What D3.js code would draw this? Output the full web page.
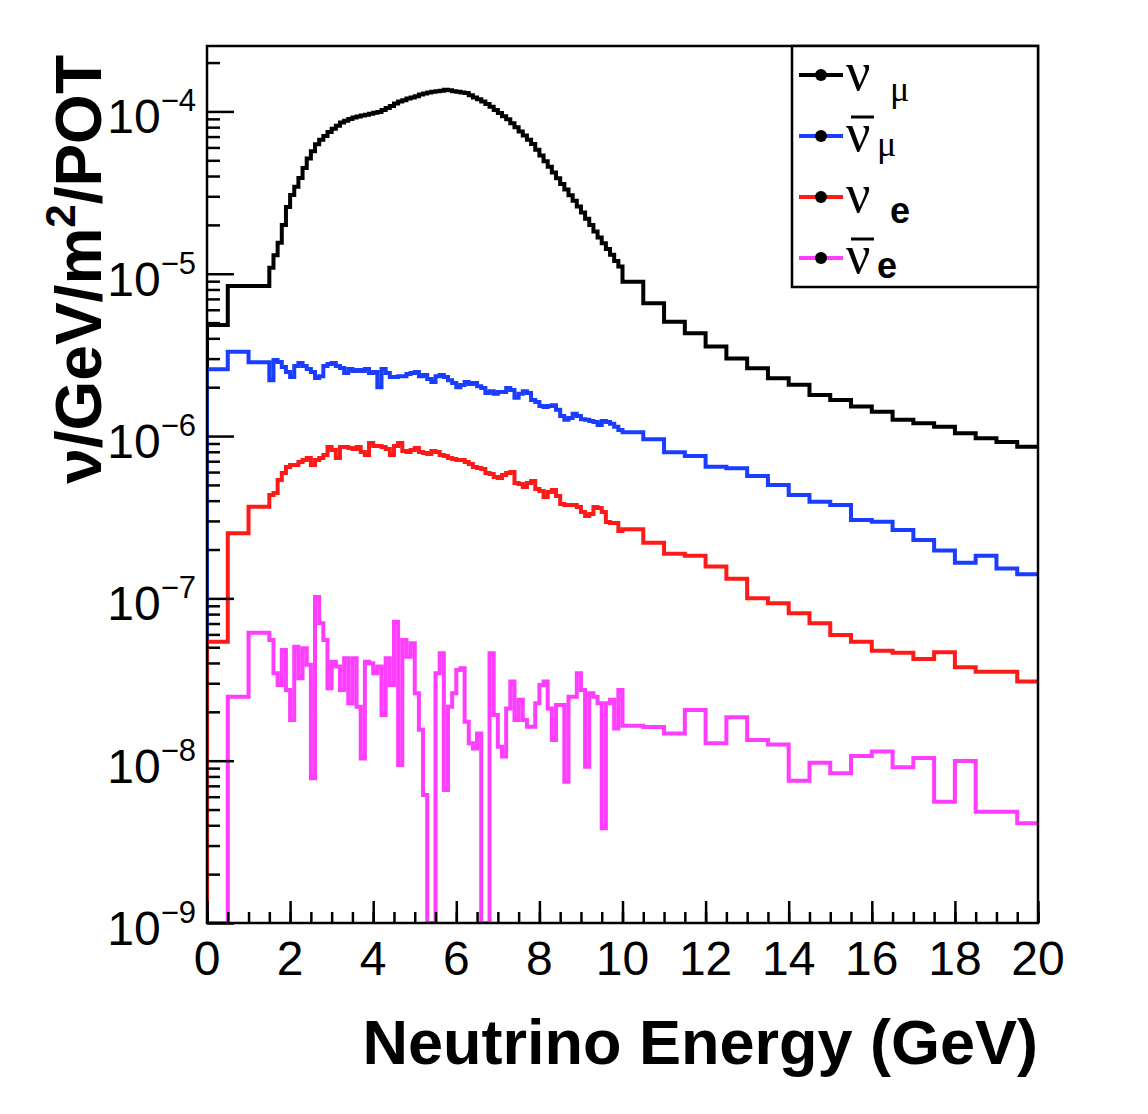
<!DOCTYPE html>
<meta charset="utf-8">
<script src="https://d3js.org/d3.v7.min.js"></script>
<style>
    body { margin: 0; background: #fff; }
</style>
<div id="chart"></div>
<script>
    // bin edges (GeV): 0.5 GeV bins up to 1.5, 0.1 GeV bins to 10, 0.5 GeV bins to 20
    const binEdges = [0, 0.5, 1.0]
        .concat(d3.range(15, 100).map(i => i / 10))
        .concat(d3.range(20, 41).map(i => i / 2));

    // nu_mu flux (black)
    const nuMu = [
        4.84e-6, 8.41e-6, 8.41e-6,
        1.09e-5, 1.30e-5, 1.55e-5, 2.00e-5, 2.58e-5, 3.06e-5, 3.44e-5, 3.89e-5, 4.49e-5, 5.13e-5,
        5.68e-5, 6.27e-5, 6.68e-5, 7.06e-5, 7.48e-5, 7.82e-5, 8.17e-5, 8.55e-5, 8.77e-5, 8.97e-5,
        9.18e-5, 9.31e-5, 9.44e-5, 9.55e-5, 9.68e-5, 9.80e-5, 9.93e-5, 1.02e-4, 1.05e-4, 1.08e-4,
        1.12e-4, 1.15e-4, 1.17e-4, 1.20e-4, 1.22e-4, 1.24e-4, 1.27e-4, 1.29e-4, 1.31e-4, 1.32e-4,
        1.33e-4, 1.34e-4, 1.36e-4, 1.35e-4, 1.33e-4, 1.32e-4, 1.31e-4, 1.30e-4, 1.26e-4, 1.22e-4,
        1.19e-4, 1.15e-4, 1.11e-4, 1.07e-4, 1.02e-4, 9.77e-5, 9.34e-5, 8.94e-5, 8.46e-5, 7.98e-5,
        7.53e-5, 7.11e-5, 6.70e-5, 6.30e-5, 5.81e-5, 5.36e-5, 4.94e-5, 4.56e-5, 4.21e-5, 3.87e-5,
        3.57e-5, 3.30e-5, 3.05e-5, 2.82e-5, 2.60e-5, 2.38e-5, 2.18e-5, 2.00e-5, 1.82e-5, 1.67e-5,
        1.54e-5, 1.42e-5, 1.31e-5, 1.20e-5, 1.11e-5,
        8.93e-6, 6.58e-6, 5.07e-6, 4.30e-6, 3.56e-6, 3.01e-6, 2.62e-6, 2.27e-6, 2.07e-6, 1.79e-6,
        1.67e-6, 1.52e-6, 1.41e-6, 1.26e-6, 1.20e-6, 1.14e-6, 1.04e-6, 9.7e-7, 9.2e-7, 8.6e-7
    ];

    // anti nu_mu flux (blue)
    const nuMuBar = [
        2.58e-6, 3.31e-6, 2.85e-6,
        2.21e-6, 2.94e-6, 2.86e-6, 2.66e-6, 2.48e-6, 2.31e-6, 2.70e-6, 2.82e-6, 2.70e-6, 2.59e-6,
        2.48e-6, 2.28e-6, 2.34e-6, 2.70e-6, 2.78e-6, 2.82e-6, 2.70e-6, 2.63e-6, 2.45e-6, 2.59e-6,
        2.52e-6, 2.55e-6, 2.52e-6, 2.59e-6, 2.45e-6, 2.48e-6, 2.00e-6, 2.59e-6, 2.45e-6, 2.31e-6,
        2.31e-6, 2.34e-6, 2.34e-6, 2.41e-6, 2.45e-6, 2.48e-6, 2.34e-6, 2.38e-6, 2.25e-6, 2.15e-6,
        2.34e-6, 2.38e-6, 2.31e-6, 2.21e-6, 2.12e-6, 2.00e-6, 2.06e-6, 2.15e-6, 2.09e-6, 2.12e-6,
        2.03e-6, 1.98e-6, 1.84e-6, 1.89e-6, 1.82e-6, 1.87e-6, 1.87e-6, 1.98e-6, 1.92e-6, 1.72e-6,
        1.82e-6, 1.89e-6, 1.84e-6, 1.67e-6, 1.62e-6, 1.53e-6, 1.51e-6, 1.53e-6, 1.55e-6, 1.45e-6,
        1.33e-6, 1.26e-6, 1.29e-6, 1.37e-6, 1.33e-6, 1.27e-6, 1.26e-6, 1.24e-6, 1.22e-6, 1.17e-6,
        1.24e-6, 1.22e-6, 1.19e-6, 1.14e-6, 1.09e-6,
        1.055e-6, 9.56e-7, 7.95e-7, 7.54e-7, 6.48e-7, 6.33e-7, 5.68e-7, 5.00e-7, 4.34e-7, 3.94e-7,
        3.76e-7, 3.04e-7, 2.97e-7, 2.64e-7, 2.29e-7, 1.97e-7, 1.66e-7, 1.83e-7, 1.53e-7, 1.41e-7
    ];

    // nu_e flux (red)
    const nuE = [
        5.41e-8, 2.52e-7, 3.67e-7,
        4.34e-7, 4.46e-7, 5.36e-7, 5.92e-7, 6.45e-7, 6.64e-7, 6.64e-7, 6.93e-7, 7.12e-7, 7.33e-7,
        6.64e-7, 7.12e-7, 7.33e-7, 7.65e-7, 8.57e-7, 8.21e-7, 7.33e-7, 8.57e-7, 8.57e-7, 8.45e-7,
        8.33e-7, 8.57e-7, 7.98e-7, 7.65e-7, 9.07e-7, 8.70e-7, 8.70e-7, 8.57e-7, 8.33e-7, 7.65e-7,
        8.70e-7, 9.07e-7, 8.10e-7, 7.98e-7, 8.21e-7, 8.45e-7, 7.98e-7, 7.87e-7, 7.76e-7, 8.10e-7,
        7.98e-7, 7.65e-7, 7.54e-7, 7.33e-7, 7.23e-7, 7.12e-7, 7.12e-7, 6.93e-7, 6.73e-7, 6.45e-7,
        6.36e-7, 6.27e-7, 5.92e-7, 5.84e-7, 5.59e-7, 5.52e-7, 5.76e-7, 5.92e-7, 6.01e-7, 5.14e-7,
        5.07e-7, 4.86e-7, 5.14e-7, 5.29e-7, 4.72e-7, 4.59e-7, 4.22e-7, 4.52e-7, 4.65e-7, 4.28e-7,
        3.81e-7, 3.76e-7, 3.76e-7, 3.76e-7, 3.65e-7, 3.40e-7, 3.22e-7, 3.31e-7, 3.65e-7, 3.60e-7,
        3.40e-7, 2.96e-7, 2.91e-7, 2.91e-7, 2.60e-7,
        2.67e-7, 2.20e-7, 1.88e-7, 1.83e-7, 1.57e-7, 1.32e-7, 1.00e-7, 9.33e-8, 8.10e-8, 7.02e-8,
        5.95e-8, 5.41e-8, 4.76e-8, 4.63e-8, 4.23e-8, 4.66e-8, 3.76e-8, 3.53e-8, 3.53e-8, 3.07e-8
    ];

    // anti nu_e flux (magenta), empty bins are 0
    const nuEBar = [
        0, 2.48e-8, 6.15e-8,
        5.54e-8, 3.46e-8, 2.93e-8, 4.81e-8, 2.73e-8, 1.78e-8, 5.04e-8, 3.22e-8, 4.93e-8, 3.90e-8,
        7.79e-9, 1.02e-7, 7.02e-8, 5.54e-8, 2.79e-8, 4.07e-8, 3.80e-8, 2.73e-8, 4.28e-8, 2.26e-8,
        4.28e-8, 2.15e-8, 1.03e-8, 4.07e-8, 3.98e-8, 3.46e-8, 3.80e-8, 1.91e-8, 4.28e-8, 2.93e-8,
        7.19e-8, 9.41e-9, 5.54e-8, 4.37e-8, 5.29e-8, 2.60e-8, 1.55e-8, 6.15e-9, 0, 0,
        3.46e-8, 4.59e-8, 6.60e-9, 2.15e-8, 2.60e-8, 3.62e-8, 3.71e-8, 1.74e-8, 1.28e-8, 1.19e-8,
        1.47e-8, 0, 0, 4.59e-8, 1.91e-8, 1.22e-8, 1.06e-8, 2.10e-8, 3.07e-8, 1.78e-8,
        2.37e-8, 1.78e-8, 1.62e-8, 1.62e-8, 2.26e-8, 2.93e-8, 3.07e-8, 2.10e-8, 1.34e-8, 2.20e-8,
        2.20e-8, 7.42e-9, 2.48e-8, 2.48e-8, 3.46e-8, 2.73e-8, 9.18e-9, 2.60e-8, 2.48e-8, 2.26e-8,
        3.83e-9, 2.26e-8, 2.37e-8, 1.58e-8, 2.73e-8,
        1.64e-8, 1.61e-8, 1.47e-8, 2.05e-8, 1.28e-8, 1.85e-8, 1.34e-8, 1.26e-8, 7.53e-9, 9.72e-9,
        8.36e-9, 1.07e-8, 1.14e-8, 9.11e-9, 1.04e-8, 5.59e-9, 9.96e-9, 4.85e-9, 4.85e-9, 4.11e-9
    ];

    const seriesList = [nuMu, nuMuBar, nuE, nuEBar];
    const seriesColors = ["#000000", "#1a3dff", "#ff1a1a", "#ff3dff"];

    // legend text pieces
    const legendSubs = ["μ", "μ", "e", "e"];
    const legendAnti = [false, true, false, true];

    const xTicks = d3.range(0, 21, 2);
    const xMinor = d3.range(0, 20.01, 0.5);
    const yDecades = [-9, -8, -7, -6, -5, -4];

    const W = 1148, H = 1114;
    const pLeft = 207, pRight = 1038, pTop = 46, pBottom = 923;
    const yMin = 1e-9, yMax = 2.53e-4;

    const svg = d3.select("#chart")
        .append("svg")
        .attr("width", W)
        .attr("height", H)
        .style("background", "#fff");

    const x = d3.scaleLinear().domain([0, 20]).range([pLeft, pRight]);
    const y = d3.scaleLog().domain([yMin, yMax]).range([pBottom, pTop]);

    svg.append("clipPath").attr("id", "plotclip")
        .append("rect")
        .attr("x", pLeft).attr("y", pTop)
        .attr("width", pRight - pLeft).attr("height", pBottom - pTop);

    // histogram outlines, starting from the bottom of the frame
    function stepPoints(vals) {
        const pts = [[binEdges[0], yMin]];
        vals.forEach((v, i) => {
            const vv = v > yMin ? v : yMin;
            pts.push([binEdges[i], vv], [binEdges[i + 1], vv]);
        });
        return pts;
    }
    const line = d3.line().x(d => x(d[0])).y(d => y(d[1]));

    svg.append("g")
        .attr("clip-path", "url(#plotclip)")
        .selectAll("path")
        .data(seriesList)
        .join("path")
        .attr("d", d => line(stepPoints(d)))
        .attr("fill", "none")
        .attr("stroke", (d, i) => seriesColors[i])
        .attr("stroke-width", 4)
        .attr("stroke-linejoin", "miter");

    // frame
    svg.append("rect")
        .attr("x", pLeft).attr("y", pTop)
        .attr("width", pRight - pLeft).attr("height", pBottom - pTop)
        .attr("fill", "none")
        .attr("stroke", "#000")
        .attr("stroke-width", 2.5);

    // y ticks (pointing into the frame)
    const yMinorVals = [];
    yDecades.forEach(p => {
        d3.range(2, 10).forEach(m => {
            const v = m * Math.pow(10, p);
            if (v < yMax) yMinorVals.push(v);
        });
    });
    const yMajorVals = yDecades.map(p => Math.pow(10, p));

    svg.append("g")
        .attr("transform", `translate(${pLeft},0)`)
        .call(d3.axisLeft(y).tickValues(yMinorVals).tickSize(-13).tickFormat(""))
        .call(g => g.select(".domain").remove())
        .selectAll("line").attr("stroke-width", 2.5);

    svg.append("g")
        .attr("transform", `translate(${pLeft},0)`)
        .call(d3.axisLeft(y).tickValues(yMajorVals).tickSize(-27).tickFormat(""))
        .call(g => g.select(".domain").remove())
        .selectAll("line").attr("stroke-width", 2.5);

    // x ticks
    svg.append("g")
        .attr("transform", `translate(0,${pBottom})`)
        .call(d3.axisBottom(x).tickValues(xMinor).tickSize(-11).tickFormat(""))
        .call(g => g.select(".domain").remove())
        .selectAll("line").attr("stroke-width", 2.5);

    svg.append("g")
        .attr("transform", `translate(0,${pBottom})`)
        .call(d3.axisBottom(x).tickValues(xTicks).tickSize(-22).tickFormat(""))
        .call(g => g.select(".domain").remove())
        .selectAll("line").attr("stroke-width", 2.5);

    // y tick labels 10^p
    const yLab = svg.append("g")
        .attr("font-family", "'Liberation Sans', Arial, sans-serif")
        .attr("fill", "#000");
    yDecades.forEach(p => {
        const t = yLab.append("text")
            .attr("x", 196)
            .attr("y", y(Math.pow(10, p)) + 22)
            .attr("text-anchor", "end")
            .attr("font-size", 48)
            .text("10");
        t.append("tspan")
            .attr("dy", -22)
            .attr("font-size", 31)
            .text("\u2212" + Math.abs(p));
    });

    // x tick labels
    svg.append("g")
        .selectAll("text")
        .data(xTicks)
        .join("text")
        .attr("x", d => x(d))
        .attr("y", 975)
        .attr("text-anchor", "middle")
        .attr("font-family", "'Liberation Sans', Arial, sans-serif")
        .attr("font-size", 48)
        .text(d => d);

    // axis titles
    svg.append("text")
        .attr("x", pRight)
        .attr("y", 1064)
        .attr("text-anchor", "end")
        .attr("font-family", "'Liberation Sans', Arial, sans-serif")
        .attr("font-weight", "bold")
        .attr("font-size", 63)
        .text("Neutrino Energy (GeV)");

    const yt = svg.append("text")
        .attr("transform", "translate(101,55) rotate(-90)")
        .attr("text-anchor", "end")
        .attr("font-family", "'Liberation Sans', Arial, sans-serif")
        .attr("font-weight", "bold")
        .attr("font-size", 64);
    yt.append("tspan").text("ν/GeV/m");
    yt.append("tspan").attr("dy", -26).attr("font-size", 42).text("2");
    yt.append("tspan").attr("dy", 26).text("/POT");

    // legend
    const lg = svg.append("g");
    lg.append("rect")
        .attr("x", 792).attr("y", 46)
        .attr("width", 246).attr("height", 241)
        .attr("fill", "#fff")
        .attr("stroke", "#000")
        .attr("stroke-width", 2.5);

    seriesColors.forEach((c, i) => {
        const ly = 75 + i * 61;
        lg.append("line")
            .attr("x1", 799).attr("x2", 843)
            .attr("y1", ly).attr("y2", ly)
            .attr("stroke", c).attr("stroke-width", 4);
        lg.append("circle")
            .attr("cx", 821).attr("cy", ly).attr("r", 6)
            .attr("fill", "#000");
        lg.append("text")
            .attr("x", 846).attr("y", ly + 15)
            .attr("font-family", "'Liberation Serif', 'DejaVu Serif', serif")
            .attr("font-size", 54)
            .text("ν");
        if (legendAnti[i]) {
            lg.append("line")
                .attr("x1", 851).attr("x2", 874)
                .attr("y1", ly - 19).attr("y2", ly - 19)
                .attr("stroke", "#000").attr("stroke-width", 3);
        }
        const sub = legendSubs[i];
        lg.append("text")
            .attr("x", legendAnti[i] ? 877 : 890)
            .attr("y", ly + (legendAnti[i] ? 20 : 26))
            .attr("font-family", sub === "e" ? "'Liberation Sans', Arial, sans-serif" : "'Liberation Serif', 'DejaVu Serif', serif")
            .attr("font-weight", sub === "e" ? "bold" : "normal")
            .attr("font-size", sub === "e" ? 36 : 36)
            .text(sub);
    });
</script>
